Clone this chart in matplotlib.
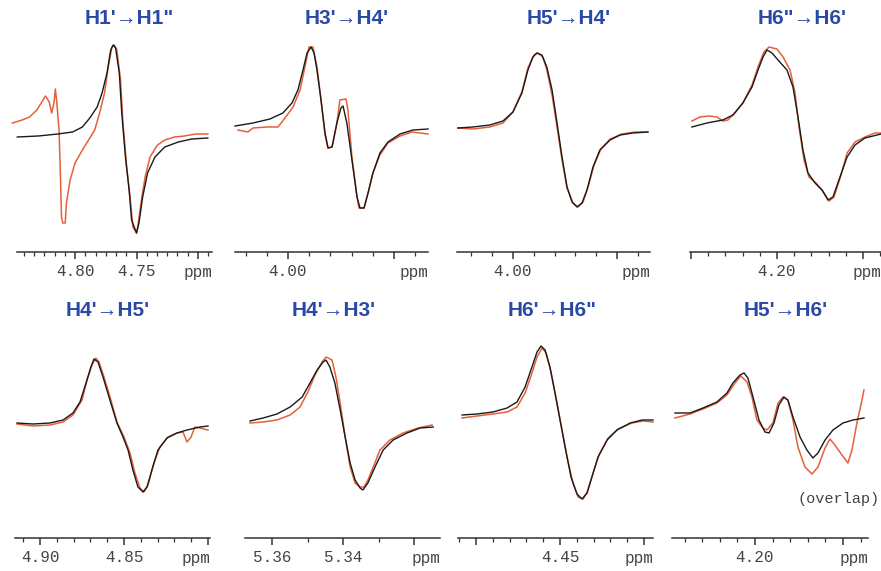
import numpy as np
import matplotlib
matplotlib.use("Agg")
import matplotlib.pyplot as plt
from matplotlib.ticker import MultipleLocator, AutoMinorLocator

# ---- data: chemical shift (ppm) and intensity (a.u., 0 = baseline) ----
# black = calculated, red = experimental

titles = ["H1'\u2192H1\"", "H3'\u2192H4'", "H5'\u2192H4'", "H6\"\u2192H6'",
          "H4'\u2192H5'", "H4'\u2192H3'", "H6'\u2192H6\"", "H5'\u2192H6'"]

# H1' -> H1"
p1_ppm_k = [4.847, 4.830, 4.814, 4.802, 4.794, 4.788, 4.782, 4.778, 4.774, 4.771, 4.769, 4.767, 4.764,
            4.762, 4.759, 4.756, 4.754, 4.750, 4.748, 4.745, 4.741, 4.735, 4.727, 4.716, 4.705, 4.692]
p1_int_k = [0, 1, 3, 5, 10, 19, 30, 44, 64, 87, 92, 89, 64,
            24, -20, -53, -83, -96, -86, -60, -36, -20, -10, -5, -2, -1]
p1_ppm_r = [4.851, 4.843, 4.837, 4.831, 4.827, 4.824, 4.821, 4.819, 4.817, 4.816, 4.815, 4.813, 4.812,
            4.811, 4.810, 4.808, 4.807, 4.804, 4.800, 4.794, 4.789, 4.784, 4.780, 4.776, 4.773, 4.770,
            4.768, 4.766, 4.763, 4.761, 4.758, 4.755, 4.753, 4.750, 4.749, 4.746, 4.743, 4.739, 4.733,
            4.727, 4.719, 4.711, 4.702, 4.692]
p1_int_r = [14, 17, 20, 27, 35, 41, 35, 24, 35, 48, 37, 7, -33,
            -80, -86, -86, -66, -43, -26, -13, -3, 7, 24, 44, 70, 90,
            92, 87, 57, 14, -30, -63, -90, -96, -90, -63, -40, -20, -8,
            -3, 0, 1, 3, 3]

# H3' -> H4'
p2_ppm_k = [4.0250, 4.0165, 4.0085, 4.0024, 3.9981, 3.9953, 3.9929, 3.9910, 3.9891, 3.9877, 3.9863,
            3.9844, 3.9825, 3.9811, 3.9792, 3.9769, 3.9750, 3.9740, 3.9722, 3.9698, 3.9674, 3.9660,
            3.9641, 3.9622, 3.9599, 3.9566, 3.9528, 3.9471, 3.9410, 3.9339]
p2_int_k = [0, 3, 7, 13, 23, 36, 56, 73, 79, 73, 56,
            26, -7, -22, -21, 3, 18, 20, 3, -34, -71, -82,
            -82, -67, -47, -27, -16, -8, -4, -3]
p2_ppm_r = [4.0236, 4.0189, 4.0165, 4.0099, 4.0047, 4.0014, 3.9976, 3.9943, 3.9920, 3.9901, 3.9882,
            3.9863, 3.9844, 3.9825, 3.9811, 3.9792, 3.9769, 3.9755, 3.9726, 3.9717, 3.9698, 3.9674,
            3.9665, 3.9641, 3.9622, 3.9599, 3.9566, 3.9528, 3.9471, 3.9415, 3.9377, 3.9339]
p2_int_r = [-4, -6, -2, -1, -1, 8, 19, 36, 59, 79, 79,
            59, 26, -9, -22, -21, 3, 26, 27, 16, -31, -71,
            -82, -82, -67, -47, -29, -17, -10, -6, -7, -8]

# H5' -> H4'
p3_ppm_k = [4.0265, 4.0192, 4.0111, 4.0048, 4.0000, 3.9957, 3.9928, 3.9904, 3.9885, 3.9861, 3.9837,
            3.9812, 3.9788, 3.9764, 3.9740, 3.9716, 3.9692, 3.9668, 3.9644, 3.9615, 3.9582, 3.9533,
            3.9485, 3.9423, 3.9351]
p3_int_k = [0, 1, 3, 7, 16, 35, 58, 71, 75, 73, 61,
            38, 5, -29, -59, -74, -79, -75, -62, -39, -22, -12,
            -7, -5, -4]
p3_ppm_r = [4.0265, 4.0192, 4.0111, 4.0048, 4.0000, 3.9957, 3.9928, 3.9899, 3.9880, 3.9856, 3.9837,
            3.9812, 3.9788, 3.9764, 3.9740, 3.9711, 3.9687, 3.9663, 3.9639, 3.9610, 3.9577, 3.9533,
            3.9476, 3.9413, 3.9351]
p3_int_r = [0, -1, 1, 5, 16, 36, 60, 73, 75, 71, 58,
            33, 1, -32, -60, -75, -79, -74, -59, -37, -21, -11,
            -6, -4, -4]

# H6" -> H6'
p4_ppm_k = [4.2494, 4.2407, 4.2314, 4.2256, 4.2198, 4.2145, 4.2110, 4.2081, 4.2058, 4.2029, 4.1994,
            4.1942, 4.1907, 4.1878, 4.1849, 4.1820, 4.1779, 4.1739, 4.1704, 4.1675, 4.1634, 4.1593,
            4.1547, 4.1489, 4.1419, 4.1396]
p4_int_k = [0, 4, 7, 12, 24, 40, 57, 70, 77, 74, 67,
            57, 40, 10, -23, -46, -56, -63, -73, -70, -50, -30,
            -18, -11, -8, -7]
p4_ppm_r = [4.2494, 4.2447, 4.2395, 4.2349, 4.2314, 4.2285, 4.2244, 4.2198, 4.2145, 4.2110, 4.2076,
            4.2046, 4.2000, 4.1965, 4.1924, 4.1895, 4.1872, 4.1843, 4.1814, 4.1773, 4.1733, 4.1698,
            4.1669, 4.1628, 4.1593, 4.1547, 4.1489, 4.1431, 4.1396]
p4_int_r = [6, 10, 11, 10, 6, 7, 14, 24, 42, 60, 75,
            80, 78, 70, 57, 34, 0, -33, -50, -56, -64, -74,
            -70, -48, -26, -15, -10, -6, -6]

# H4' -> H5'
p5_ppm_k = [4.9137, 4.9042, 4.8940, 4.8863, 4.8804, 4.8762, 4.8726, 4.8697, 4.8679, 4.8655, 4.8625,
            4.8584, 4.8542, 4.8506, 4.8476, 4.8447, 4.8417, 4.8387, 4.8363, 4.8334, 4.8298, 4.8244,
            4.8185, 4.8125, 4.8048, 4.8000]
p5_int_k = [0, -1, 0, 3, 10, 21, 40, 56, 64, 61, 46,
            23, 0, -14, -27, -47, -64, -69, -64, -47, -27, -15,
            -10, -7, -4, -3]
p5_ppm_r = [4.9137, 4.9042, 4.8940, 4.8863, 4.8804, 4.8750, 4.8720, 4.8691, 4.8667, 4.8649, 4.8619,
            4.8578, 4.8542, 4.8500, 4.8464, 4.8435, 4.8405, 4.8381, 4.8357, 4.8322, 4.8286, 4.8238,
            4.8185, 4.8149, 4.8125, 4.8101, 4.8078, 4.8048, 4.8000]
p5_int_r = [-1, -3, -2, 1, 8, 23, 43, 58, 65, 61, 46,
            23, 1, -14, -30, -50, -65, -69, -62, -40, -24, -14,
            -10, -9, -19, -14, -4, -5, -7]

# H4' -> H3'
p6_ppm_k = [5.3662, 5.3625, 5.3586, 5.3549, 5.3515, 5.3493, 5.3473, 5.3456, 5.3448, 5.3437, 5.3423,
            5.3408, 5.3394, 5.3380, 5.3366, 5.3352, 5.3344, 5.3330, 5.3310, 5.3287, 5.3259, 5.3220,
            5.3183, 5.3146]
p6_int_k = [0, 3, 7, 14, 24, 38, 51, 59, 61, 54, 38,
            11, -16, -42, -59, -67, -69, -62, -46, -29, -19, -12,
            -7, -6]
p6_ppm_r = [5.3662, 5.3625, 5.3586, 5.3549, 5.3521, 5.3499, 5.3479, 5.3459, 5.3448, 5.3431, 5.3420,
            5.3408, 5.3394, 5.3380, 5.3366, 5.3352, 5.3341, 5.3330, 5.3315, 5.3296, 5.3268, 5.3231,
            5.3189, 5.3149]
p6_int_r = [-2, -1, 1, 6, 14, 29, 46, 59, 64, 61, 44,
            18, -16, -46, -62, -66, -66, -59, -46, -29, -19, -12,
            -7, -4]

# H6' -> H6"
p7_ppm_k = [4.5083, 4.4994, 4.4899, 4.4815, 4.4756, 4.4708, 4.4667, 4.4637, 4.4613, 4.4589, 4.4560,
            4.4530, 4.4500, 4.4470, 4.4435, 4.4399, 4.4369, 4.4339, 4.4310, 4.4274, 4.4220, 4.4161,
            4.4083, 4.4012, 4.3947]
p7_int_k = [0, 1, 3, 7, 13, 28, 48, 63, 69, 65, 48,
            22, -5, -32, -62, -79, -84, -78, -62, -42, -25, -15,
            -8, -5, -5]
p7_ppm_r = [4.5083, 4.4994, 4.4899, 4.4815, 4.4756, 4.4708, 4.4667, 4.4637, 4.4607, 4.4583, 4.4554,
            4.4518, 4.4488, 4.4458, 4.4423, 4.4393, 4.4363, 4.4339, 4.4304, 4.4268, 4.4214, 4.4155,
            4.4072, 4.4006, 4.3947]
p7_int_r = [-3, -1, 1, 3, 8, 22, 42, 58, 67, 62, 43,
            12, -15, -42, -68, -82, -84, -77, -58, -40, -23, -14,
            -8, -6, -7]

# H5' -> H6'
p8_ppm_k = [4.2454, 4.2369, 4.2295, 4.2216, 4.2159, 4.2125, 4.2085, 4.2062, 4.2040, 4.2011, 4.1977,
            4.1943, 4.1920, 4.1892, 4.1864, 4.1835, 4.1813, 4.1784, 4.1744, 4.1705, 4.1671, 4.1642,
            4.1602, 4.1557, 4.1500, 4.1443, 4.1381]
p8_int_k = [0, 0, 5, 11, 20, 30, 38, 40, 35, 16, -7,
            -19, -20, -10, 8, 16, 13, -4, -24, -37, -45, -40,
            -27, -17, -10, -7, -5]
p8_ppm_r = [4.2454, 4.2369, 4.2295, 4.2216, 4.2159, 4.2114, 4.2080, 4.2045, 4.2017, 4.1989, 4.1955,
            4.1932, 4.1898, 4.1869, 4.1841, 4.1813, 4.1784, 4.1756, 4.1716, 4.1676, 4.1642, 4.1602,
            4.1574, 4.1546, 4.1506, 4.1472, 4.1449, 4.1421, 4.1392, 4.1381]
p8_int_r = [-5, -1, 4, 10, 18, 30, 37, 31, 16, -7, -15,
            -17, -10, 10, 16, 13, -7, -34, -54, -61, -54, -35,
            -26, -32, -42, -50, -37, -10, 13, 23]

ppm_k = [p1_ppm_k, p2_ppm_k, p3_ppm_k, p4_ppm_k, p5_ppm_k, p6_ppm_k, p7_ppm_k, p8_ppm_k]
int_k = [p1_int_k, p2_int_k, p3_int_k, p4_int_k, p5_int_k, p6_int_k, p7_int_k, p8_int_k]
ppm_r = [p1_ppm_r, p2_ppm_r, p3_ppm_r, p4_ppm_r, p5_ppm_r, p6_ppm_r, p7_ppm_r, p8_ppm_r]
int_r = [p1_int_r, p2_int_r, p3_int_r, p4_int_r, p5_int_r, p6_int_r, p7_int_r, p8_int_r]

# axis ranges and ticks
xlims = [(4.8472, 4.6886), (4.0250, 3.9339), (4.0269, 3.9341), (4.2505, 4.1396),
         (4.9149, 4.7988), (5.3676, 5.3127), (4.5107, 4.3947), (4.2471, 4.1358)]
major_ticks = [[4.80, 4.75, 4.70], [4.00, 3.95], [4.00, 3.95], [4.25, 4.20, 4.15],
               [4.90, 4.85, 4.80], [5.36, 5.34, 5.32], [4.50, 4.45, 4.40], [4.20, 4.15]]
tick_labels = [['4.80', '4.75', ''], ['4.00', ''], ['4.00', ''], ['', '4.20', ''],
               ['4.90', '4.85', ''], ['5.36', '5.34', ''], ['', '4.45', ''], ['4.20', '']]
minor_step = [0.05 / 6, 0.01, 0.01, 0.01, 0.01, 0.01, 0.01, 0.01]

# ---- layout (pixels of the 881x571 canvas) ----
W, H = 881, 571
ax_lr = [(17, 212), (235, 428), (457, 650), (690, 881),
         (15, 210), (245, 440), (458, 653), (672, 868)]
base_px = [137, 126, 128, 127, 423, 421, 415, 413]
axis_px = [252, 252, 252, 252, 538, 538, 538, 538]
top_px = [30, 30, 30, 30, 325, 325, 325, 325]
title_xy = [(129, 18), (347, 18), (569, 18), (802, 18),
            (108, 310), (334, 310), (552, 310), (786, 310)]

black = '#1a1a1a'
red = '#e5603a'
blue = '#2a48a8'
grey = '#333333'
mono = 'Liberation Mono'

fig = plt.figure(figsize=(W / 100, H / 100), dpi=100)

for i in range(8):
    l, r = ax_lr[i]
    ax = fig.add_axes([l / W, 1 - axis_px[i] / H, (r - l) / W, (axis_px[i] - top_px[i]) / H])
    ax.plot(ppm_r[i], int_r[i], color=red, lw=1.1, clip_on=False, zorder=2)
    ax.plot(ppm_k[i], int_k[i], color=black, lw=1.0, clip_on=False, zorder=3)
    ax.set_xlim(*xlims[i])
    ax.set_ylim(base_px[i] - axis_px[i], base_px[i] - top_px[i])

    for s in ['left', 'right', 'top']:
        ax.spines[s].set_visible(False)
    ax.spines['bottom'].set_color(grey)
    ax.spines['bottom'].set_linewidth(1.1)
    ax.set_yticks([])
    ax.set_xticks(major_ticks[i], tick_labels[i], fontfamily=mono, fontsize=11.5, color='#444444')
    ax.xaxis.set_minor_locator(MultipleLocator(minor_step[i]))
    ax.tick_params(axis='x', which='major', length=5, width=1.1, color=grey, pad=4)
    ax.tick_params(axis='x', which='minor', length=3, width=0.9, color=grey)
    ax.annotate('ppm', xy=(1, 0), xycoords='axes fraction', xytext=(0, -9),
                textcoords='offset points', ha='right', va='top',
                fontfamily=mono, fontsize=11.5, color='#444444')
    ax.patch.set_visible(False)

    tx, ty = title_xy[i]
    fig.text(tx / W, 1 - ty / H, titles[i], ha='center', va='center',
             fontsize=15, fontweight='bold', color=blue,
             family=['Liberation Sans', 'DejaVu Sans'])

fig.text(880 / W, 1 - 499 / H, '(overlap)', ha='right', va='center',
         fontfamily=mono, fontsize=11, color='#444444')

fig.savefig('out.png', dpi=100)
